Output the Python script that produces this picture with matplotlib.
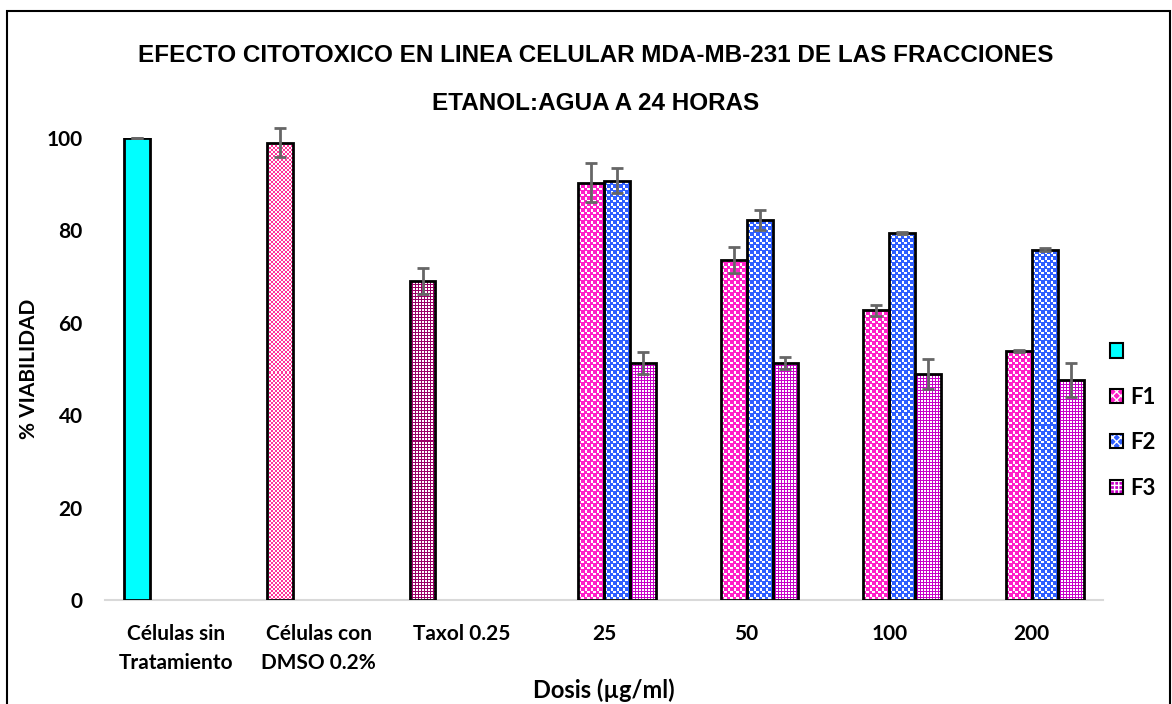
import numpy as np
import matplotlib
matplotlib.use("Agg")
import matplotlib.pyplot as plt
from matplotlib.patches import Patch, Rectangle

categories = ["Células sin\nTratamiento", "Células con\nDMSO 0.2%", "Taxol 0.25", "25", "50", "100", "200"]
series_names = ["", "F1", "F2", "F3"]

# controls series (first slot), only the first three categories
ctrl = [100.0, 99.0, 69.1, np.nan, np.nan, np.nan, np.nan]
ctrl_err = [0.0, 3.2, 2.8, 0, 0, 0, 0]
f1 = [np.nan, np.nan, np.nan, 90.3, 73.6, 62.7, 53.9]
f1_err = [0, 0, 0, 4.2, 2.9, 1.2, 0.3]
f2 = [np.nan, np.nan, np.nan, 90.8, 82.3, 79.5, 75.8]
f2_err = [0, 0, 0, 2.7, 2.2, 0.2, 0.3]
f3 = [np.nan, np.nan, np.nan, 51.3, 51.3, 48.9, 47.6]
f3_err = [0, 0, 0, 2.4, 1.3, 3.3, 3.6]

CYAN = "#00FFFF"
PINK_LIGHT = "#FF3399"
PURPLE_DARK = "#990066"
PINK = "#FF1FC8"
BLUE = "#2F5FFF"
MAGENTA = "#C800C8"

# pixel patterns: 1 = foreground colour, 0 = white
CHECK = np.kron(np.array([[1, 0], [0, 1]]), np.ones((2, 2), dtype=int))
DENSE_CHECK = np.kron(np.array([[1, 0], [0, 1]]), np.ones((3, 3), dtype=int))
DENSE_CHECK[0, :] = 1
DENSE_CHECK[:, 0] = 1
GRID = np.array([[0, 0, 1], [0, 0, 1], [1, 1, 1]])

plt.rcParams["font.family"] = ["Lato", "DejaVu Sans"]
plt.rcParams["font.weight"] = "bold"

fig = plt.figure(figsize=(11.72, 7.04), dpi=100)
ax = fig.add_axes([105 / 1172, 104 / 704, 998 / 1172, 462 / 704])
ax.set_xlim(-0.5, 6.5)
ax.set_ylim(0, 100)

x = np.arange(len(categories))
w = 0.182


def texture(patch, color, tile):
    # fill a bar with a pixel pattern, clipped to the bar outline
    x0, y0 = patch.get_x(), patch.get_y()
    x1, y1 = x0 + patch.get_width(), y0 + patch.get_height()
    p0 = ax.transData.transform((x0, y0))
    p1 = ax.transData.transform((x1, y1))
    nw = max(int(round(p1[0] - p0[0])), 1)
    nh = max(int(round(p1[1] - p0[1])), 1)
    reps = (nh // tile.shape[0] + 2, nw // tile.shape[1] + 2)
    mask = np.tile(tile, reps)[:nh, :nw][::-1]
    rgb = np.array(matplotlib.colors.to_rgb(color))
    img = np.ones((nh, nw, 3))
    img[mask == 1] = rgb
    im = ax.imshow(img, extent=(x0, x1, y0, y1), interpolation="nearest",
                   aspect="auto", zorder=2)
    im.set_clip_path(patch)


def draw(vals, errs, slot, colors, tiles):
    pos = x + (slot - 1.5) * w
    bars = ax.bar(pos, vals, w, facecolor="none", edgecolor="black",
                  linewidth=2, zorder=3)
    for b, c, t in zip(bars, colors, tiles):
        if np.isnan(b.get_height()):
            continue
        if t is None:
            b.set_facecolor(c)
        else:
            texture(b, c, t)
    ax.errorbar(pos, vals, yerr=errs, fmt="none", ecolor="#666666",
                elinewidth=2, capsize=4.5, capthick=2, zorder=4, clip_on=False)


draw(ctrl, ctrl_err, 0, [CYAN, PINK_LIGHT, PURPLE_DARK] + [CYAN] * 4,
     [None, CHECK, GRID] + [None] * 4)
draw(f1, f1_err, 1, [PINK] * 7, [DENSE_CHECK] * 7)
draw(f2, f2_err, 2, [BLUE] * 7, [DENSE_CHECK] * 7)
draw(f3, f3_err, 3, [MAGENTA] * 7, [GRID] * 7)

ax.set_xticks(x)
ax.set_xticklabels(categories, fontsize=15, fontweight="bold", linespacing=1.6)
ax.set_yticks(np.arange(0, 101, 20))
ax.tick_params(axis="y", labelsize=15, length=0, pad=16)
ax.tick_params(axis="x", length=0, pad=17)
for s in ["top", "right", "left"]:
    ax.spines[s].set_visible(False)
ax.spines["bottom"].set_color("#d9d9d9")
ax.spines["bottom"].set_linewidth(1.5)

fig.text(604 / 1172, 1 - 690 / 704, "Dosis (µg/ml)", fontsize=17,
         fontweight="bold", ha="center", va="center")
ax.set_ylabel("% VIABILIDAD", fontsize=15, fontweight="bold")
ax.yaxis.set_label_coords(-66 / 998, 0.5)

fig.text(596 / 1172, 1 - 55 / 704,
         "EFECTO CITOTOXICO EN LINEA CELULAR MDA-MB-231 DE LAS FRACCIONES",
         family="Liberation Sans", fontsize=17.5, fontweight="bold",
         ha="center", va="center")
fig.text(596 / 1172, 1 - 103 / 704, "ETANOL:AGUA A 24 HORAS",
         family="Liberation Sans", fontsize=17.5, fontweight="bold",
         ha="center", va="center")

handles = [
    (Patch(facecolor=CYAN, edgecolor="black", linewidth=1.5),),
    (Patch(facecolor=PINK, edgecolor="white", hatch="xxxx", linewidth=0),
     Patch(facecolor="none", edgecolor="black", linewidth=1.5)),
    (Patch(facecolor=BLUE, edgecolor="white", hatch="xxxx", linewidth=0),
     Patch(facecolor="none", edgecolor="black", linewidth=1.5)),
    (Patch(facecolor=MAGENTA, edgecolor="white", hatch="++++", linewidth=0),
     Patch(facecolor="none", edgecolor="black", linewidth=1.5)),
]
fig.legend(handles, series_names, loc="center left",
           bbox_to_anchor=(1090 / 1172, 1 - 420 / 704), frameon=False,
           fontsize=16, handlelength=0.6, handleheight=0.6,
           handletextpad=0.3, labelspacing=1.1)

fig.patches.append(Rectangle((7 / 1172, -0.1), 1163 / 1172, 1.1 - 11 / 704,
                             transform=fig.transFigure, fill=False,
                             edgecolor="black", linewidth=1.5))

fig.savefig("out.png", dpi=100)
